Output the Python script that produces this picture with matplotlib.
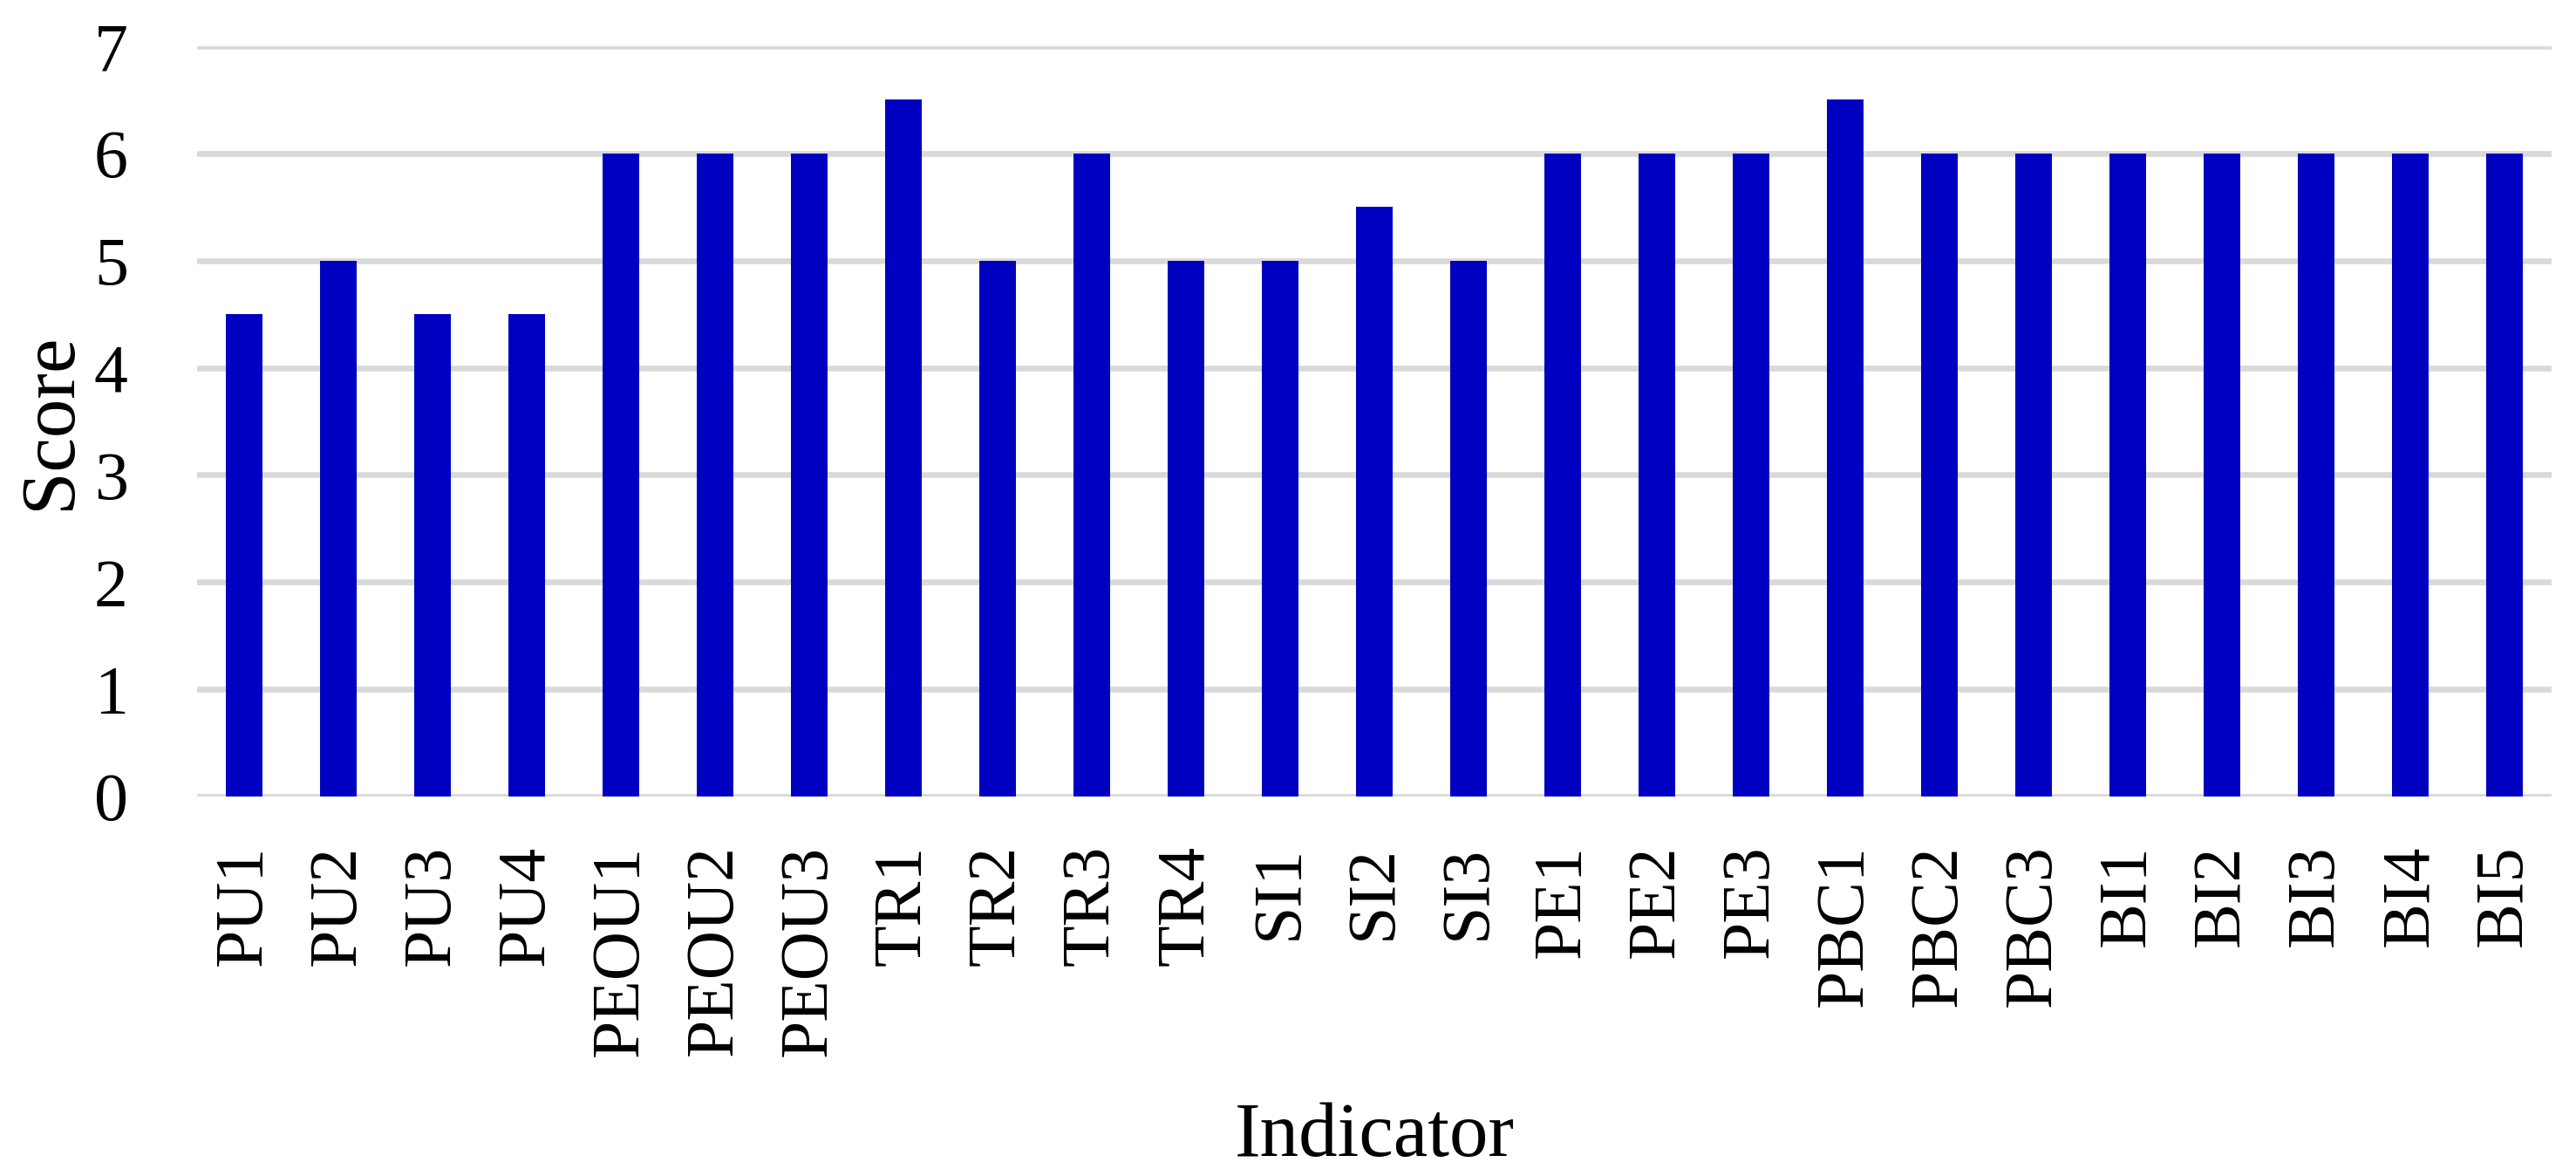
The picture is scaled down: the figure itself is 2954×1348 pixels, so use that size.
import matplotlib
matplotlib.use("Agg")
import matplotlib.pyplot as plt

categories = ["PU1", "PU2", "PU3", "PU4", "PEOU1", "PEOU2", "PEOU3",
              "TR1", "TR2", "TR3", "TR4", "SI1", "SI2", "SI3",
              "PE1", "PE2", "PE3", "PBC1", "PBC2", "PBC3",
              "BI1", "BI2", "BI3", "BI4", "BI5"]
scores = [4.5, 5, 4.5, 4.5, 6, 6, 6,
          6.5, 5, 6, 5, 5, 5.5, 5,
          6, 6, 6, 6.5, 6, 6,
          6, 6, 6, 6, 6]
yticks = [0, 1, 2, 3, 4, 5, 6, 7]

plt.rcParams['font.family'] = ['Liberation Serif', 'DejaVu Serif']

W, H = 2954, 1348
L, R, T, B = 226, 2926, 53, 913
fig = plt.figure(figsize=(W/100, H/100), dpi=100)
ax = fig.add_axes([L/W, 1-B/H, (R-L)/W, (B-T)/H])

x = list(range(len(categories)))
ax.bar(x, scores, width=0.38, color="#0000C0", zorder=3)

ax.set_xlim(-0.5, len(categories)-0.5)
ax.set_ylim(0, 7)
ax.set_yticks(yticks)
ax.set_yticklabels([str(t) for t in yticks], fontsize=56)
ax.set_xticks(x)
ax.set_xticklabels(categories, rotation=90, fontsize=56)
ax.tick_params(axis='y', length=0, pad=57)
ax.tick_params(axis='x', length=0, pad=40)

ax.grid(axis='y', color="#D9D9D9", linewidth=4.8, zorder=0)
ax.grid(axis='x', visible=False)
ax.set_axisbelow(True)
for s in ax.spines.values():
    s.set_visible(False)

ax.set_ylabel("Score", fontsize=64)
ax.yaxis.label.set_va('baseline')
ax.yaxis.set_label_coords((80-L)/(R-L), 0.5)
ax.set_xlabel("Indicator", fontsize=64)
ax.xaxis.label.set_va('baseline')
ax.xaxis.set_label_coords(0.5, -(1325-B)/(B-T))

fig.savefig("out.png", dpi=100, facecolor="white")
